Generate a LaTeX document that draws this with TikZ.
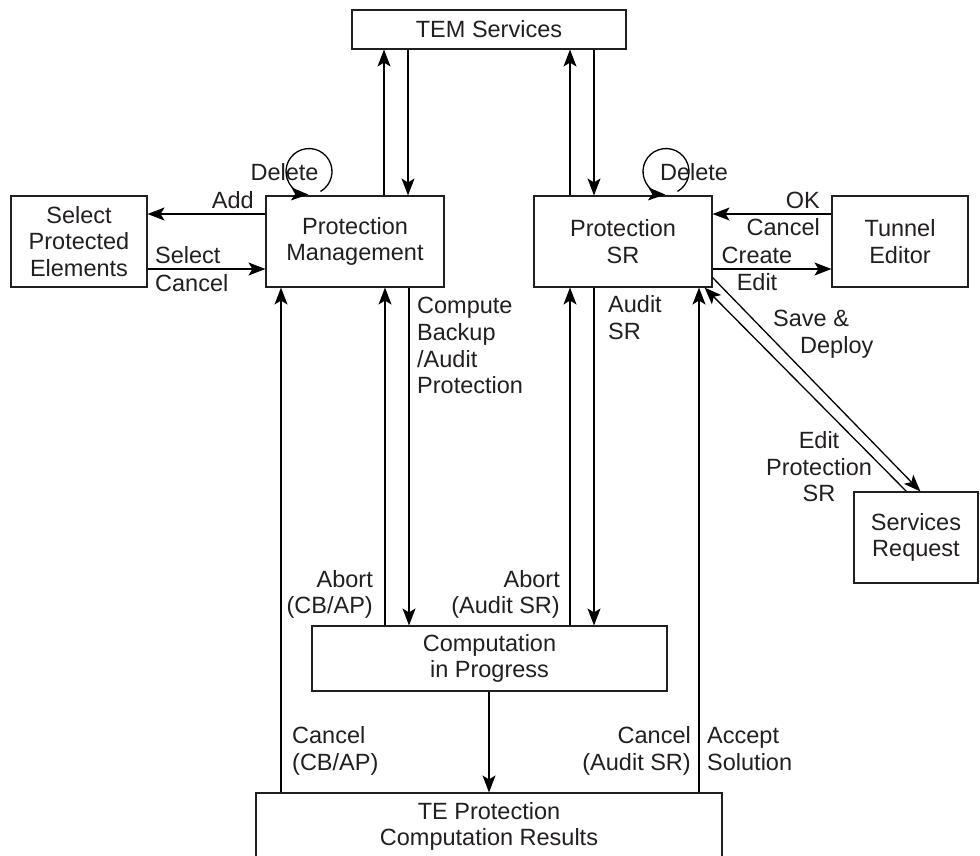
\documentclass[tikz,border=0pt]{standalone}
\usepackage{fontspec}
\setmainfont{Liberation Sans}
\usetikzlibrary{arrows.meta}
\definecolor{ink}{HTML}{231F20}
\tikzset{
  box/.style={draw=ink, line width=1.1pt, inner sep=0pt, align=center, text=ink,
              font=\fontsize{23.5}{26.5}\selectfont},
  lbl/.style={inner sep=0pt, text=ink, font=\fontsize{23.5}{26.5}\selectfont},
  arr/.style={draw=black, line width=1.3pt, -{Stealth[length=17pt,width=13pt,inset=4pt]}},
}
\begin{document}
\begin{tikzpicture}[x=1pt,y=-1pt]
\useasboundingbox (0,0) rectangle (980,856);
\clip (0,0) rectangle (980,856);
\fill[white] (0,0) rectangle (980,856);

% boxes
\node[box, minimum width=274pt, minimum height=39pt] (tem) at (489,29.5) {TEM Services};
\node[box, minimum width=178pt, minimum height=91pt] (pm) at (355,241.5) {Protection\\Management};
\node[box, minimum width=136pt, minimum height=91pt] (spe) at (79,241.5) {Select\\Protected\\Elements};
\node[box, minimum width=178pt, minimum height=91pt] (psr) at (623,241.5) {Protection\\SR};
\node[box, minimum width=136pt, minimum height=91pt] (te) at (900,241.5) {Tunnel\\Editor};
\node[box, minimum width=124pt, minimum height=91pt] (sr) at (916,537.5) {Services\\Request};
\node[box, minimum width=355pt, minimum height=65pt] (cip) at (489.5,658.5) {Computation\\in Progress};
\node[box, minimum width=466pt, minimum height=67pt] (tepcr) at (489,826.5) {TE Protection\\Computation Results};

% connectors to/from TEM Services
\draw[arr] (384,0 |- pm.north) -- (384,0 |- tem.south);
\draw[arr] (408,0 |- tem.south) -- (408,0 |- pm.north);
\draw[arr] (570,0 |- psr.north) -- (570,0 |- tem.south);
\draw[arr] (594,0 |- tem.south) -- (594,0 |- psr.north);

% side connectors
\draw[arr] (pm.west |- 0,214) -- (spe.east |- 0,214);
\draw[arr] (spe.east |- 0,269) -- (pm.west |- 0,269);
\draw[arr] (te.west |- 0,214) -- (psr.east |- 0,214);
\draw[arr] (psr.east |- 0,269) -- (te.west |- 0,269);

% diagonals
\draw[arr] ([yshift=10pt]psr.south east) -- ([xshift=67pt]sr.north west);
\draw[arr] ([xshift=53pt]sr.north west) -- ([xshift=-8pt]psr.south east);

% middle verticals
\draw[arr] (409,0 |- pm.south) -- (409,0 |- cip.north);
\draw[arr] (385,0 |- cip.north) -- (385,0 |- pm.south);
\draw[arr] (594,0 |- psr.south) -- (594,0 |- cip.north);
\draw[arr] (570,0 |- cip.north) -- (570,0 |- psr.south);
\draw[arr] (489,0 |- cip.south) -- (489,0 |- tepcr.north);
\draw[arr] (281,0 |- tepcr.north) -- (281,0 |- pm.south);
\draw[arr] (699,0 |- tepcr.north) -- (699,0 |- psr.south);

% delete loops
\draw[arr] ([shift={(-34.5pt,4pt)}]pm.north) arc[start angle=-60, end angle=268, radius=23pt];
\draw[arr] ([shift={(54.5pt,4pt)}]psr.north) arc[start angle=-60, end angle=268, radius=23pt];

% labels
\node[lbl, anchor=base] (dl1) at (284.5,180) {Delete};
\node[lbl, anchor=base] (dl2) at (694,180) {Delete};
\node[lbl, anchor=base east] (ladd) at (254,208) {Add};
\node[lbl, anchor=base west] (lsel) at (155,263) {Select};
\node[lbl, anchor=base west] (lcan1) at (155,291) {Cancel};
\node[lbl, anchor=base east] (lok) at (820,208) {OK};
\node[lbl, anchor=base east] (lcan2) at (820,235) {Cancel};
\node[lbl, anchor=base] (lcre) at (757,263) {Create};
\node[lbl, anchor=base] (ledit) at (757,290) {Edit};
\node[lbl, anchor=base west] (lc1) at (417,313) {Compute};
\node[lbl, anchor=base west] (lc2) at (417,340) {Backup};
\node[lbl, anchor=base west] (lc3) at (417,367) {/Audit};
\node[lbl, anchor=base west] (lc4) at (417,393) {Protection};
\node[lbl, anchor=base west] (la1) at (608,312) {Audit};
\node[lbl, anchor=base west] (la2) at (608,339) {SR};
\node[lbl, anchor=base west] (lsd1) at (773,326) {Save \&};
\node[lbl, anchor=base west] (lsd2) at (800,353) {Deploy};
\node[lbl, anchor=base] (lep1) at (819,448) {Edit};
\node[lbl, anchor=base] (lep2) at (819,475) {Protection};
\node[lbl, anchor=base] (lep3) at (819,501) {SR};
\node[lbl, anchor=base east] (lab1) at (373,587) {Abort};
\node[lbl, anchor=base east] (lab2) at (373,613) {(CB/AP)};
\node[lbl, anchor=base east] (lab3) at (560,587) {Abort};
\node[lbl, anchor=base east] (lab4) at (560,613) {(Audit SR)};
\node[lbl, anchor=base west] (lcc1) at (292,743) {Cancel};
\node[lbl, anchor=base west] (lcc2) at (292,770) {(CB/AP)};
\node[lbl, anchor=base east] (lcc3) at (691,743) {Cancel};
\node[lbl, anchor=base east] (lcc4) at (691,770) {(Audit SR)};
\node[lbl, anchor=base west] (lacc1) at (707,743) {Accept};
\node[lbl, anchor=base west] (lacc2) at (707,770) {Solution};
\end{tikzpicture}
\end{document}
